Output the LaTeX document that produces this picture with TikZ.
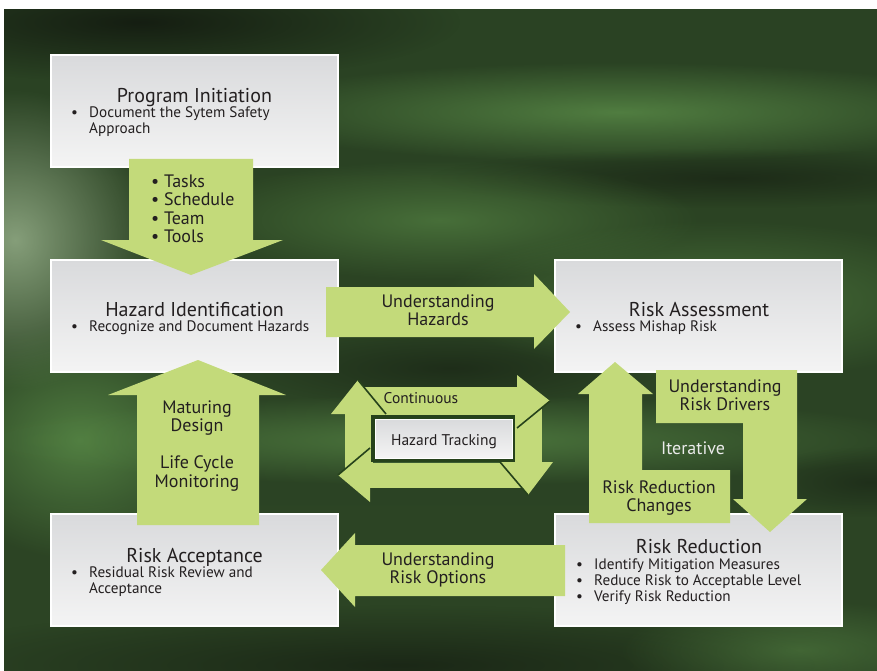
\documentclass[tikz,border=0pt]{standalone}
\usepackage{fontspec}
\setmainfont{PT Sans}
\usetikzlibrary{fadings}

\definecolor{flowgreen}{HTML}{C3DA7A}
\definecolor{ink}{HTML}{231F20}
\definecolor{boxtop}{HTML}{D9DADC}
\definecolor{boxbot}{HTML}{F4F4F4}
\definecolor{ringdark}{HTML}{26421B}
\definecolor{bgtop}{HTML}{2A4223}
\definecolor{bgmid}{HTML}{3F6A34}
\definecolor{bgbot}{HTML}{2C4424}
\definecolor{hazegreen}{HTML}{5A8C48}
\definecolor{hazegrey}{HTML}{8FA883}
\definecolor{hazedark}{HTML}{141C11}

\tikzfading[name=softspot, inner color=transparent!0, outer color=transparent!100]

\newcommand{\bitem}{\makebox[18pt][l]{•}}
\newcommand{\stack}[2][l]{\begin{tabular}[t]{@{}#1@{}}#2\end{tabular}}

\tikzset{
  panel/.style={draw=white, line width=1.4pt, top color=boxtop, bottom color=boxbot,
    minimum width=287pt, minimum height=112pt, inner sep=0pt},
  title/.style={font=\fontsize{20}{22}\selectfont, text=ink, anchor=base, inner sep=0pt},
  points/.style={font=\fontsize{15.2}{16}\selectfont, text=ink, anchor=base west, inner sep=0pt},
  flow/.style={fill=flowgreen},
  flowtext/.style={font=\fontsize{18}{18.5}\selectfont, text=ink, anchor=base, inner sep=0pt},
  haze/.style={path fading=softspot, fill=#1},
}

\begin{document}
\begin{tikzpicture}[x=1pt,y=-1pt]
\useasboundingbox (0,0) rectangle (877,671);

% background
\shade[top color=bgtop, middle color=bgmid, bottom color=bgbot] (4,10) rectangle (877,671);
\begin{scope}
\clip (4,10) rectangle (877,671);
\fill[haze=hazedark, opacity=.95] (140,22) ellipse (320 and 60);
\fill[haze=hazegreen, opacity=.8] (620,112) ellipse (400 and 50);
\fill[haze=hazedark, opacity=.6] (730,178) ellipse (300 and 30);
\fill[haze=hazegrey, opacity=.9] (15,240) ellipse (140 and 150);
\fill[haze=hazegreen, opacity=.8] (80,440) ellipse (150 and 120);
\fill[haze=hazegreen, opacity=.6] (440,220) ellipse (260 and 60);
\fill[haze=hazegreen, opacity=.6] (720,300) ellipse (280 and 80);
\fill[haze=hazedark, opacity=.55] (450,368) ellipse (210 and 40);
\fill[haze=hazegreen, opacity=.7] (450,440) ellipse (480 and 45);
\fill[haze=hazedark, opacity=.5] (870,482) ellipse (120 and 35);
\fill[haze=hazedark, opacity=.7] (400,665) ellipse (500 and 60);
\fill[haze=hazegreen, opacity=.5] (800,650) ellipse (180 and 50);
\end{scope}

% boxes
\node[panel] (init) at (194.5,111) {};
\node[panel] (hazid) at (194.5,316) {};
\node[panel] (assess) at (698.5,316) {};
\node[panel] (accept) at (194.5,570) {};
\node[panel] (reduce) at (698.5,570) {};

% big arrows
\fill[flow] (129,159) -- (253,159) -- (253,240) -- (283,240) -- (191,275) -- (101,240) -- (129,240) -- cycle;
\fill[flow] (326,287) -- (534,287) -- (534,274) -- (570,312) -- (534,349) -- (534,337) -- (326,337) -- cycle;
\fill[flow] (565,545) -- (355,545) -- (355,533) -- (321,570) -- (355,607) -- (355,596) -- (565,596) -- cycle;
\fill[flow] (137,525) -- (259,525) -- (259,395) -- (286,395) -- (198,360) -- (108,395) -- (137,395) -- cycle;
\fill[flow] (589,523) -- (730,523) -- (730,470) -- (642,470) -- (642,394) -- (653,394) -- (615,362) -- (578,394) -- (589,394) -- cycle;
\fill[flow] (656,370) -- (797,370) -- (797,499) -- (807,499) -- (770,532) -- (733,499) -- (743,499) -- (743,423) -- (656,423) -- cycle;

% hazard tracking loop
\fill[flow] (358,387) rectangle (517,416);
\fill[flow] (515,401) rectangle (542,462);
\fill[flow] (370,463) rectangle (528,488);
\fill[flow] (345,414) rectangle (373,475);
\fill[ringdark] (371,415) rectangle (515,462);
\node[draw=white, line width=1pt, top color=boxtop, bottom color=boxbot,
  minimum width=137pt, minimum height=39pt, inner sep=0pt] (track) at (443.5,438.5) {};
\fill[flow] (517,375) -- (550,401) -- (517,428) -- cycle;
\fill[flow] (500,462) -- (553,462) -- (528,495) -- cycle;
\fill[flow] (370,448) -- (338,475) -- (370,502) -- cycle;
\fill[flow] (331,414) -- (358,380) -- (386,414) -- cycle;
\draw[ringdark, line width=1.6pt] (550,401) -- (517,428);
\draw[ringdark, line width=1.6pt] (528,495) -- (500,462);
\draw[ringdark, line width=1.6pt] (338,475) -- (370,448);
\draw[ringdark, line width=1.6pt] (358,380) -- (386,414);

% box texts
\node[title] (initT) at (194.5,103) {Program Initiation};
\node[points] (initP) at (71,118) {\stack{\bitem Document the Sytem Safety\\\hspace*{18pt}Approach}};
\node[title] (hazidT) at (194.5,316) {Hazard Identification};
\node[points] (hazidP) at (71,331) {\stack{\bitem Recognize and Document Hazards}};
\node[title] (assessT) at (699,316) {Risk Assessment};
\node[points] (assessP) at (575,331) {\stack{\bitem Assess Mishap Risk}};
\node[title] (acceptT) at (194.5,562) {Risk Acceptance};
\node[points] (acceptP) at (71,577) {\stack{\bitem Residual Risk Review and\\\hspace*{18pt}Acceptance}};
\node[title] (reduceT) at (699,553) {Risk Reduction};
\node[points] (reduceP) at (576,569) {\stack{\bitem Identify Mitigation Measures\\\bitem Reduce Risk to Acceptable Level\\\bitem Verify Risk Reduction}};

% arrow labels
\node[flowtext, anchor=base west] (tasks) at (151,187) {\stack{• Tasks\\• Schedule\\• Team\\• Tools}};
\node[flowtext] (hazards) at (438,307) {\stack[c]{Understanding\\Hazards}};
\node[flowtext] (options) at (438,565) {\stack[c]{Understanding\\Risk Options}};
\node[flowtext] (maturing) at (197,413) {\stack[c]{Maturing\\Design\\\\Life Cycle\\Monitoring}};
\node[flowtext] (drivers) at (725,392) {\stack[c]{Understanding\\Risk Drivers}};
\node[flowtext] (changes) at (659,493) {\stack[c]{Risk Reduction\\Changes}};
\node[flowtext, text=white!92!black] (iter) at (693,454) {Iterative};
\node[flowtext, font=\fontsize{15.5}{18}\selectfont] (cont) at (421,403) {Continuous};
\node[flowtext, font=\fontsize{15.5}{18}\selectfont] (trackT) at (444,445) {Hazard Tracking};
\end{tikzpicture}
\end{document}
